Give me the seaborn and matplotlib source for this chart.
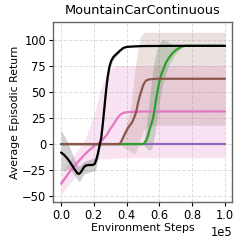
import numpy as np
import pandas as pd
import matplotlib
matplotlib.use("Agg")
import matplotlib.pyplot as plt
import seaborn as sns

# ---- data (steps in units of 1e5) ----
black_x = [0, 0.02, 0.04, 0.06, 0.08, 0.10, 0.11, 0.12, 0.13, 0.14, 0.15, 0.17, 0.19, 0.205, 0.215, 0.225,
           0.235, 0.245, 0.255, 0.265, 0.275, 0.285, 0.295, 0.305, 0.32, 0.34, 0.36, 0.38, 0.40, 0.45, 0.5, 0.7, 1.0]
black_y = [-8, -10.5, -14, -18.5, -23.5, -28, -28.5, -27, -24.5, -22, -20.5, -20, -20, -19, -15, -9,
           -1, 6, 20, 36, 52, 65, 74, 79.5, 83.5, 86.5, 89.5, 92, 93, 93.5, 93.8, 94, 94]
black_lo = [-26, -25, -24, -25, -29, -34, -36, -34, -31, -29, -28, -27, -26, -26, -22, -14,
            -5, 2, 15, 31, 47, 60, 70, 76, 81, 85, 88.5, 91, 92.5, 93, 93.5, 94, 94]
black_hi = [13, 8, 2, -6, -14, -20, -21, -20, -18, -17, -16, -15, -14, -13, -8, -3,
            3, 10, 25, 41, 57, 70, 78, 83, 86, 88, 90.5, 93, 93.5, 94, 94, 94, 94]

pink_x = [0, 0.05, 0.10, 0.15, 0.20, 0.24, 0.28, 0.30, 0.32, 0.34, 0.36, 0.38, 0.40, 0.45, 0.5, 1.0]
pink_y = [-38, -27, -17.5, -9, -2, 2, 9, 14.5, 19, 24, 28, 30, 30.5, 31, 31.2, 31.3]
pink_lo = [-48, -38, -29, -22, -16, -14, -14, -14, -13.5, -13, -13, -13, -13, -13, -13, -13]
pink_hi = [-28, -17, -6, 6, 28, 52, 68, 72, 74, 75, 75, 75, 75, 75, 75, 75]

brown_x = [0, 0.35, 0.36, 0.37, 0.39, 0.41, 0.43, 0.44, 0.45, 0.46, 0.47, 0.48, 0.49, 0.50, 0.51, 0.52, 0.54,
           0.58, 1.0]
brown_y = [0, 0, 0.5, 3.5, 10, 16, 20, 23, 27, 32, 40, 46, 51, 56, 59, 61, 62, 62.5, 62.5]
brown_lo = [0, 0, -1, -2, -4, -6, -8, -9, -9, -6, -3, 3, 8, 12, 14, 16, 17, 18, 18]
brown_hi = [0, 0, 2, 8, 15, 25, 40, 55, 70, 82, 92, 100, 104, 106, 107, 107, 107, 107, 107]

green_x = [0, 0.50, 0.51, 0.52, 0.53, 0.54, 0.55, 0.56, 0.57, 0.58, 0.59, 0.60, 0.61, 0.62, 0.63, 0.64, 0.66,
           0.68, 0.70, 0.72, 0.74, 0.76, 1.0]
green_y = [0, 0, 1.5, 3.5, 8, 14, 19, 24, 33, 43, 52, 60, 66, 70, 74, 78, 83, 87, 90, 92, 93.5, 94, 94]
green_lo = [0, 0, -2, -4, -5, -6, -5, 0, 8, 18, 30, 40, 50, 57, 63, 68, 76, 82, 87, 90, 92.5, 94, 94]
green_hi = [0, 0, 8, 18, 30, 45, 58, 70, 80, 88, 94, 97, 99, 100, 100, 99, 97, 95, 94.5, 94.5, 94.5, 94, 94]

purple_x = [0, 1.0]
purple_y = [0, 0]

x_ticks = [0.0, 0.2, 0.4, 0.6, 0.8, 1.0]
y_ticks = [-50, -25, 0, 25, 50, 75, 100]

SCALE = 1e5

# ---- style ----
sns.set_theme(style="white")
plt.rcParams["font.family"] = ["DejaVu Sans"]
plt.rcParams["text.color"] = "black"
plt.rcParams["axes.labelcolor"] = "black"
plt.rcParams["xtick.color"] = "black"
plt.rcParams["ytick.color"] = "black"

fig = plt.figure(figsize=(2.41, 2.43), dpi=100)
ax = fig.add_axes([0.22, 0.169, 0.743, 0.740])

def band(xs, lo, hi, color, alpha):
    ax.fill_between(np.array(xs) * SCALE, lo, hi, color=color, alpha=alpha, linewidth=0)

band(pink_x, pink_lo, pink_hi, "#e377c2", 0.2)
band(brown_x, brown_lo, brown_hi, "#8c564b", 0.17)
band(green_x, green_lo, green_hi, "#2ca02c", 0.12)
band(green_x, green_lo, green_hi, "#555555", 0.12)
band(black_x, black_lo, black_hi, "#000000", 0.18)

def line(xs, ys, color):
    df = pd.DataFrame({"step": np.array(xs) * SCALE, "ret": ys})
    sns.lineplot(data=df, x="step", y="ret", color=color, linewidth=1.6, ax=ax)

line(purple_x, purple_y, "#9467bd")
line(pink_x, pink_y, "#e377c2")
line(green_x, green_y, "#2ca02c")
line(brown_x, brown_y, "#8c564b")
line(black_x, black_y, "#000000")

ax.set_xlim(-0.049 * SCALE, 1.043 * SCALE)
ax.set_ylim(-55.3, 116.7)
ax.set_xticks([t * SCALE for t in x_ticks])
ax.set_yticks(y_ticks)
ax.ticklabel_format(axis="x", style="sci", scilimits=(0, 0))
ax.xaxis.get_offset_text().set_fontsize(8.3)
ax.tick_params(axis="both", labelsize=8.3, length=3, width=0.8, colors="black", pad=2,
               bottom=True, left=True)
ax.grid(True, linestyle="--", color="#dddddd", linewidth=0.7)
for s in ax.spines.values():
    s.set_visible(True)
    s.set_color("#666666")
    s.set_linewidth(1.0)
ax.set_xlabel("Environment Steps", fontsize=7.8, labelpad=1)
ax.set_ylabel("Average Episodic Return", fontsize=7.8, labelpad=1)
ax.set_title("MountainCarContinuous", fontsize=9.3)

fig.savefig("out.png", dpi=100)
